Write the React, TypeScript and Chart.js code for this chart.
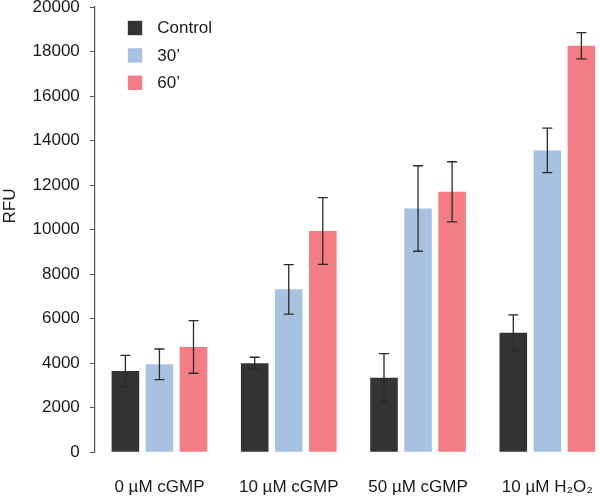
import React, { useEffect, useRef } from "react";
import { Chart, registerables } from "chart.js";

Chart.register(...registerables);

const categories = ["0 µM cGMP", "10 µM cGMP", "50 µM cGMP", "10 µM H₂O₂"];
const seriesLabels = ["Control", "30’", "60’"];
const controlValues = [3650, 4000, 3350, 5370];
const min30Values = [3950, 7320, 10950, 13560];
const min60Values = [4730, 9940, 11700, 18260];
const controlErrors = [700, 270, 1080, 800];
const min30Errors = [690, 1110, 1920, 1000];
const min60Errors = [1180, 1500, 1350, 590];
const yTicksMax = 20000;
const yTickStep = 2000;
const yTitle = "RFU";

const colors = ["#333333", "#a7c2e1", "#f47c84"];
const FONT = "'Liberation Sans', Arial, Helvetica, sans-serif";
const TEXT = "#1a1a1a";

const errorBarPlugin = {
  id: "errorBars",
  afterDatasetsDraw(chart: any) {
    const ctx = chart.ctx;
    const y = chart.scales.y;
    ctx.save();
    ctx.strokeStyle = "#2a2a2a";
    ctx.lineWidth = 1.3;
    chart.data.datasets.forEach((ds: any, i: number) => {
      const meta = chart.getDatasetMeta(i);
      meta.data.forEach((bar: any, j: number) => {
        const v = ds.data[j];
        const e = ds.errors[j];
        const x = bar.x;
        const top = y.getPixelForValue(v + e);
        const bot = y.getPixelForValue(v - e);
        ctx.beginPath();
        ctx.moveTo(x, top);
        ctx.lineTo(x, bot);
        ctx.moveTo(x - 5, top);
        ctx.lineTo(x + 5, top);
        ctx.moveTo(x - 5, bot);
        ctx.lineTo(x + 5, bot);
        ctx.stroke();
      });
    });
    ctx.restore();
  },
};

const legendPlugin = {
  id: "customLegend",
  afterDraw(chart: any) {
    const ctx = chart.ctx;
    const area = chart.chartArea;
    ctx.save();
    ctx.font = `17px ${FONT}`;
    ctx.textBaseline = "middle";
    ctx.textAlign = "left";
    chart.data.datasets.forEach((ds: any, i: number) => {
      const cy = area.top + 21 + i * 27.4;
      const bx = area.left + 33;
      ctx.fillStyle = ds.backgroundColor;
      ctx.fillRect(bx, cy - 7.2, 14.4, 14.4);
      ctx.fillStyle = TEXT;
      ctx.fillText(ds.label, bx + 29.5, cy + 0.5);
    });
    ctx.restore();
  },
};

const yTitlePlugin = {
  id: "yTitleCustom",
  afterDraw(chart: any) {
    const ctx = chart.ctx;
    const area = chart.chartArea;
    ctx.save();
    ctx.font = `17px ${FONT}`;
    ctx.fillStyle = TEXT;
    ctx.textAlign = "center";
    ctx.textBaseline = "middle";
    ctx.translate(10.5, area.top + (area.bottom - area.top) * 0.447);
    ctx.rotate(-Math.PI / 2);
    ctx.fillText(yTitle, 0, 0);
    ctx.restore();
  },
};

export default function App() {
  const ref = useRef<HTMLCanvasElement | null>(null);

  useEffect(() => {
    if (!ref.current) return;
    const values = [controlValues, min30Values, min60Values];
    const errors = [controlErrors, min30Errors, min60Errors];
    const chart = new Chart(ref.current, {
      type: "bar",
      data: {
        labels: categories,
        datasets: seriesLabels.map((label, i) => ({
          label,
          data: values[i],
          errors: errors[i],
          backgroundColor: colors[i],
          borderWidth: 0,
          barPercentage: 0.81,
          categoryPercentage: 0.79,
        })) as any,
      },
      options: {
        responsive: false,
        animation: false,
        layout: { padding: { top: 7, left: 0, right: 0, bottom: 0 } },
        plugins: {
          legend: { display: false },
          tooltip: { enabled: false },
          title: { display: false },
        },
        scales: {
          x: {
            grid: { display: false, drawTicks: false },
            border: { display: false },
            ticks: {
              color: TEXT,
              font: { family: FONT, size: 17 },
              padding: 25,
              maxRotation: 0,
              autoSkip: false,
            },
            afterFit(scale: any) {
              scale.height = 45.7;
              scale.paddingLeft = 0;
              scale.paddingRight = 0;
            },
          },
          y: {
            min: 0,
            max: yTicksMax,
            grid: {
              drawOnChartArea: false,
              drawTicks: true,
              tickLength: 5,
              color: "#555555",
              lineWidth: 1,
            },
            border: { display: true, color: "#555555", width: 1.2 },
            ticks: {
              stepSize: yTickStep,
              color: TEXT,
              font: { family: FONT, size: 17 },
              padding: 10,
              callback: (v: any) => String(v),
            },
            afterFit(scale: any) {
              scale.width = 94.8;
              scale.paddingTop = 0;
              scale.paddingBottom = 0;
            },
          },
        },
      },
      plugins: [errorBarPlugin, legendPlugin, yTitlePlugin],
    });
    return () => chart.destroy();
  }, []);

  return (
    <div
      style={{
        position: "fixed",
        left: 0,
        top: 0,
        width: 600,
        height: 498,
        overflow: "hidden",
        background: "#ffffff",
      }}
    >
      <canvas ref={ref} width={612} height={498} style={{ display: "block" }} />
    </div>
  );
}
